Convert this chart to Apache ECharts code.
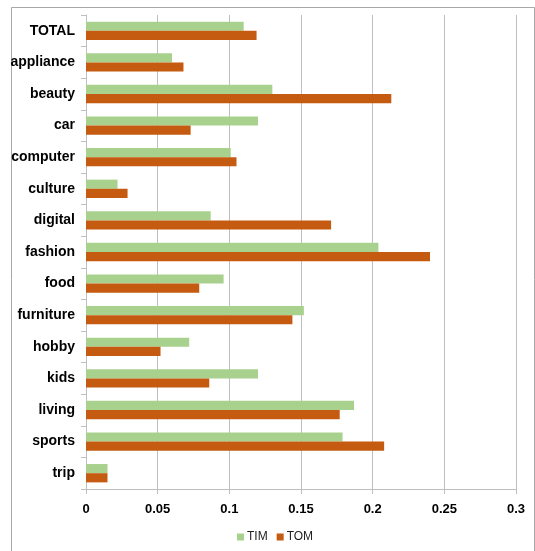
<!DOCTYPE html>
<html>
<head>
<meta charset="utf-8">
<script src="https://cdn.jsdelivr.net/npm/echarts@6/dist/echarts.min.js"></script>
<style>
html,body{margin:0;padding:0;background:#fff;}
#chart{width:535px;height:551px;}
</style>
</head>
<body>
<div id="chart"></div>
<script>
const categories = ['TOTAL','appliance','beauty','car','computer','culture','digital','fashion','food','furniture','hobby','kids','living','sports','trip'];
const timValues = [0.110,0.060,0.130,0.120,0.101,0.022,0.087,0.204,0.096,0.152,0.072,0.120,0.187,0.179,0.015];
const tomValues = [0.119,0.068,0.213,0.073,0.105,0.029,0.171,0.240,0.079,0.144,0.052,0.086,0.177,0.208,0.015];
const seriesNames = ['TIM','TOM'];
const xTicks = {min:0, max:0.3, interval:0.05};

const FONT = '"Liberation Sans",Arial,sans-serif';
const chart = echarts.init(document.getElementById('chart'), null, {renderer:'canvas'});
chart.setOption({
  animation:false,
  backgroundColor:'#fff',
  graphic:[{
    type:'rect', left:9, top:5, z:-1,
    shape:{width:523, height:600},
    style:{fill:'none', stroke:'#a8a8a8', lineWidth:1}
  }],
  grid:{left:86, right:19, top:15, bottom:62, containLabel:false},
  legend:{
    data:seriesNames,
    bottom:3, left:232,
    itemWidth:7, itemHeight:7, itemGap:9,
    icon:'rect',
    textStyle:{fontFamily:FONT, fontSize:12, color:'#222', padding:[0,0,0,-2]}
  },
  xAxis:{
    type:'value', min:xTicks.min, max:xTicks.max, interval:xTicks.interval,
    axisLine:{show:true, lineStyle:{color:'#bfbfbf'}},
    axisTick:{show:true, length:5, lineStyle:{color:'#bfbfbf'}},
    splitLine:{show:true, lineStyle:{color:'#bfbfbf'}},
    axisLabel:{fontFamily:FONT, fontWeight:'bold', fontSize:13, color:'#000', margin:14}
  },
  yAxis:{
    type:'category', data:categories, inverse:true,
    axisLine:{show:true, lineStyle:{color:'#bfbfbf'}},
    axisTick:{show:true, length:5, lineStyle:{color:'#bfbfbf'}},
    axisLabel:{fontFamily:FONT, fontWeight:'bold', fontSize:14, color:'#000', margin:11}
  },
  series:[
    {name:seriesNames[0], type:'bar', data:timValues, barGap:'0%', barCategoryGap:'42%',
     itemStyle:{color:'#a9d18e'}},
    {name:seriesNames[1], type:'bar', data:tomValues, barGap:'0%', barCategoryGap:'42%',
     itemStyle:{color:'#c55a11'}}
  ]
});
</script>
</body>
</html>
